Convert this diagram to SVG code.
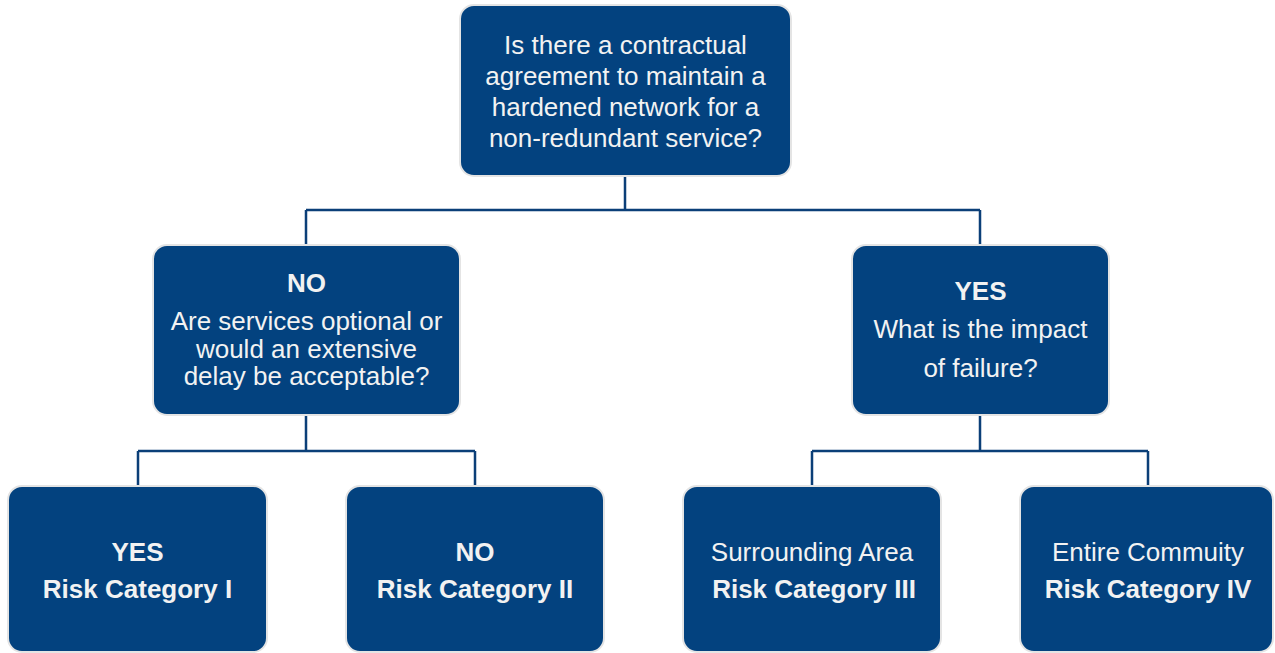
<svg xmlns="http://www.w3.org/2000/svg" width="1275" height="653" viewBox="0 0 1275 653">
<style>
.box{fill:#03427f;stroke:#e4e4e4;stroke-width:2}
.t{font-family:"Liberation Sans",Arial,sans-serif;font-size:26px;fill:#f2f2f2;text-anchor:middle}
.b{font-weight:bold}
.c{fill:none;stroke:#0b3f78;stroke-width:2.5}
</style>
<rect width="1275" height="653" fill="#ffffff"/>
<g id="connectors">
<path class="c" d="M625 176V210M306 210H980M306 210V245M980 210V245"/>
<path class="c" d="M306 415V451M138 451H475M138 451V486M475 451V486"/>
<path class="c" d="M980 415V451M812 451H1148M812 451V486M1148 451V486"/>
</g>
<g id="root">
<rect class="box" x="460" y="5" width="331" height="171" rx="14"/>
<text class="t" x="625.5" y="54">Is there a contractual</text>
<text class="t" x="625.5" y="85">agreement to maintain a</text>
<text class="t" x="625.5" y="116">hardened network for a</text>
<text class="t" x="625.5" y="147">non-redundant service?</text>
</g>
<g id="no-branch">
<rect class="box" x="153" y="245" width="307" height="170" rx="14"/>
<text class="t b" x="306.5" y="292">NO</text>
<text class="t" x="306.5" y="330">Are services optional or</text>
<text class="t" x="306.5" y="358">would an extensive</text>
<text class="t" x="306.5" y="385">delay be acceptable?</text>
</g>
<g id="yes-branch">
<rect class="box" x="852" y="245" width="257" height="170" rx="14"/>
<text class="t b" x="980.5" y="300">YES</text>
<text class="t" x="980.5" y="338">What is the impact</text>
<text class="t" x="980.5" y="377">of failure?</text>
</g>
<g id="cat1">
<rect class="box" x="8" y="486" width="259" height="166" rx="14"/>
<text class="t b" x="137.5" y="561">YES</text>
<text class="t b" x="137.5" y="598">Risk Category I</text>
</g>
<g id="cat2">
<rect class="box" x="346" y="486" width="258" height="166" rx="14"/>
<text class="t b" x="475" y="561">NO</text>
<text class="t b" x="475" y="598">Risk Category II</text>
</g>
<g id="cat3">
<rect class="box" x="683" y="486" width="258" height="166" rx="14"/>
<text class="t" x="812" y="561">Surrounding Area</text>
<text class="t b" x="814" y="598">Risk Category III</text>
</g>
<g id="cat4">
<rect class="box" x="1020" y="486" width="253" height="166" rx="14"/>
<text class="t" x="1148" y="561">Entire Commuity</text>
<text class="t b" x="1148" y="598">Risk Category IV</text>
</g>
</svg>
